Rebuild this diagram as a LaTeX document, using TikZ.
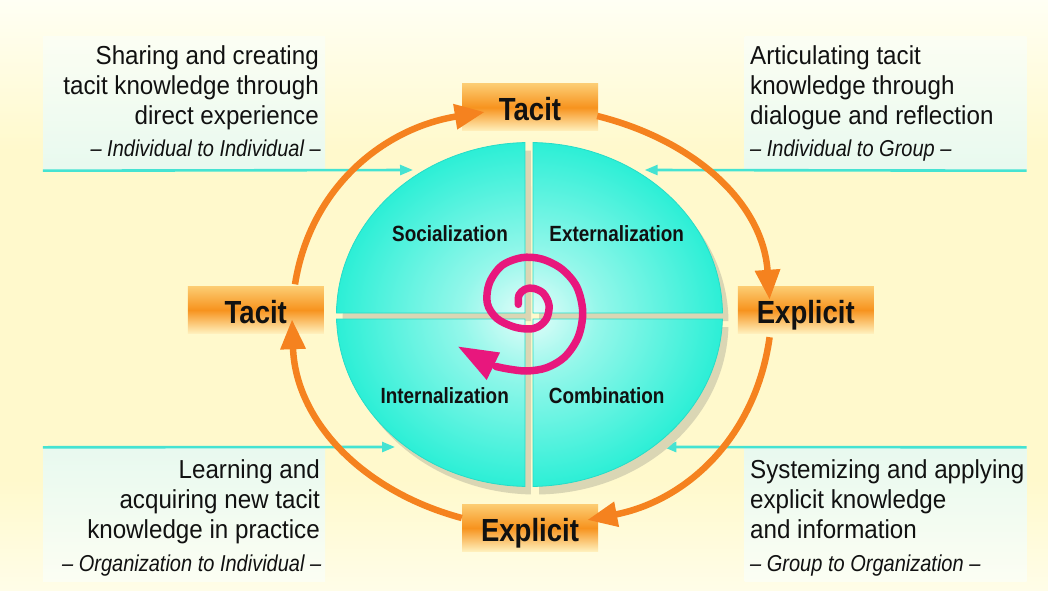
\documentclass[tikz,border=0pt]{standalone}
\usepackage{fontspec}
\setmainfont[FakeStretch=0.93]{Liberation Sans}
\newfontfamily\labfont[FakeStretch=0.86]{Liberation Sans}
\newfontfamily\subfont[FakeStretch=0.87]{Liberation Sans}
\usetikzlibrary{arrows.meta,calc}

\definecolor{bgyellow}{HTML}{FFF9CC}
\definecolor{bgwhite}{HTML}{FFFFF4}
\definecolor{bglow}{HTML}{FFFDE8}
\definecolor{panelhi}{HTML}{FCFEF3}
\definecolor{panellow}{HTML}{E8F9EF}
\definecolor{cyanline}{HTML}{45E3D2}
\definecolor{quadout}{HTML}{2CEFD6}
\definecolor{quadmid}{HTML}{93F7EA}
\definecolor{quadin}{HTML}{E6FDFA}
\definecolor{quadedgec}{HTML}{26DCC8}
\definecolor{shadowc}{HTML}{DAD6B4}
\definecolor{spiralc}{HTML}{E8177D}
\definecolor{orangec}{HTML}{F5821F}
\definecolor{boxtop}{HTML}{FCCC72}
\definecolor{boxmid}{HTML}{F7931E}
\definecolor{boxbot}{HTML}{FFF1BE}
\definecolor{textc}{HTML}{111111}

\pgfdeclareradialshading{quadshade}{\pgfpoint{0bp}{0bp}}{color(0bp)=(quadin); color(9bp)=(quadmid); color(25bp)=(quadout); color(50bp)=(quadout)}

\newcommand\qUL{(525,277) -- ([shift={(529.5,275.5)}]91.34:193 and 172) arc[start angle=91.34, end angle=179.5, x radius=193, y radius=172] -- cycle}
\newcommand\qUR{(533,277) -- ([shift={(529.5,275.5)}]0.5:193 and 172) arc[start angle=0.5, end angle=88.96, x radius=193, y radius=172] -- cycle}
\newcommand\qLL{(525,271) -- ([shift={(529.5,275.5)}]181.5:193 and 172) arc[start angle=181.5, end angle=268.66, x radius=193, y radius=172] -- cycle}
\newcommand\qLR{(533,271) -- ([shift={(529.5,275.5)}]271.04:193 and 172) arc[start angle=271.04, end angle=358.5, x radius=193, y radius=172] -- cycle}
\newcommand\fullell{(529.5,275.5) ellipse [x radius=193, y radius=172]}

\begin{document}
\begin{tikzpicture}[x=1pt,y=1pt,
  obox/.style={shade, top color=boxtop, bottom color=boxbot, middle color=boxmid,
    minimum width=136pt, minimum height=47pt, inner sep=0pt, text height=27pt, text depth=0pt,
    text=textc, font=\labfont\bfseries\fontsize{32}{32}\selectfont},
  panel/.style={minimum width=282pt, minimum height=134pt, inner sep=0pt},
  toppanel/.style={panel, shade, top color=panelhi, bottom color=panellow},
  botpanel/.style={panel, shade, top color=panellow, bottom color=panelhi},
  bodytext/.style={inner sep=0pt, text=textc, font=\fontsize{26}{30}\selectfont},
  subtext/.style={inner sep=0pt, text=textc, font=\subfont\itshape\fontsize{23}{26}\selectfont},
  quadlabel/.style={inner sep=0pt, anchor=base, text=textc, font=\labfont\bfseries\fontsize{22}{24}\selectfont},
  cyanarrow/.style={draw=cyanline, line width=2.6pt, -{Triangle[length=13pt,width=10pt]}},
  orangearrow/.style={draw=orangec, line width=6.5pt, -{Triangle[length=30pt,width=24pt]}},
  spiralline/.style={draw=spiralc, line width=7.5pt, line cap=round, line join=round},
  quadedge/.style={draw=quadedgec, line width=0.8pt},
  quadshadow/.style={fill=shadowc, shift={(6,-8)}}
]
\useasboundingbox (0,0) rectangle (1048,590);
% background
\fill[bgyellow] (0,0) rectangle (1048,590);
\shade[top color=bgwhite, bottom color=bgyellow] (0,440) rectangle (1048,590);
\shade[top color=bgyellow, bottom color=bglow] (0,0) rectangle (1048,110);

% text panels
\node[toppanel] (tlPanel) at (184,486.5) {};
\node[toppanel] (trPanel) at (885.5,486.5) {};
\node[botpanel] (blPanel) at (184,75.5) {};
\node[botpanel] (brPanel) at (885.5,75.5) {};

% connector ends at the ellipse
\coordinate (socIn) at (413,420);
\coordinate (extIn) at (644.7,420);
\coordinate (intIn) at (395,143);
\coordinate (comIn) at (663.3,143);
\draw[cyanarrow] (tlPanel.south west) -- (socIn);
\draw[cyanarrow] (trPanel.south east) -- (extIn);
\draw[cyanarrow] (blPanel.north west) -- (intIn);
\draw[cyanarrow] (brPanel.north east) -- (comIn);

% panel texts
\node[bodytext, anchor=base east] (tl1) at (319,525.5) {Sharing and creating};
\node[bodytext, anchor=base east] (tl2) at (319,495.5) {tacit knowledge through};
\node[bodytext, anchor=base east] (tl3) at (319,465.5) {direct experience};
\node[subtext, anchor=base east] (tl4) at (321,433) {– Individual to Individual –};

\node[bodytext, anchor=base west] (tr1) at (750,525.5) {Articulating tacit};
\node[bodytext, anchor=base west] (tr2) at (750,495.5) {knowledge through};
\node[bodytext, anchor=base west] (tr3) at (750,465.5) {dialogue and reflection};
\node[subtext, anchor=base west] (tr4) at (750,433) {– Individual to Group –};

\node[bodytext, anchor=base east] (bl1) at (320,112) {Learning and};
\node[bodytext, anchor=base east] (bl2) at (320,82) {acquiring new tacit};
\node[bodytext, anchor=base east] (bl3) at (320,52) {knowledge in practice};
\node[subtext, anchor=base east] (bl4) at (321.5,19) {– Organization to Individual –};

\node[bodytext, anchor=base west] (br1) at (750,112) {Systemizing and applying};
\node[bodytext, anchor=base west] (br2) at (750,82) {explicit knowledge};
\node[bodytext, anchor=base west] (br3) at (750,52) {and information};
\node[subtext, anchor=base west] (br4) at (750,19) {– Group to Organization –};

% quadrant shadows
\fill[quadshadow] \qUL;
\fill[quadshadow] \qUR;
\fill[quadshadow] \qLL;
\fill[quadshadow] \qLR;
% quadrants
\begin{scope}\clip \qUL; \shade[shading=quadshade] \fullell; \end{scope}
\begin{scope}\clip \qUR; \shade[shading=quadshade] \fullell; \end{scope}
\begin{scope}\clip \qLL; \shade[shading=quadshade] \fullell; \end{scope}
\begin{scope}\clip \qLR; \shade[shading=quadshade] \fullell; \end{scope}
\draw[quadedge] \qUL;
\draw[quadedge] \qUR;
\draw[quadedge] \qLL;
\draw[quadedge] \qLR;

% quadrant labels
\node[quadlabel] (soc) at (450,349) {Socialization};
\node[quadlabel] (ext) at (616.7,349) {Externalization};
\node[quadlabel] (int) at (444.7,186.7) {Internalization};
\node[quadlabel] (com) at (606.7,186.7) {Combination};

% spiral
\draw[spiralline] plot[smooth, tension=0.55] coordinates {
 (518.3,285.7) (519,295) (525,300.7) (533.3,301.7) (543.3,296.7) (549,285)
 (546.7,271.7) (538.3,263.3) (528.3,261) (513.3,263.3) (496.7,271.7) (487.3,286.7)
 (489.3,306.7) (501.7,324.3) (521.7,332.3) (541.7,331) (561.7,321) (576.7,303.3)
 (582.7,278.3) (578.3,253.3) (565,233.3) (546.7,222.3) (526.7,219) (508.3,221) (496,223.5)};
\fill[spiralc] (458.3,243.3) -- (500,237.5) -- (486.7,210) -- cycle;

% orange boxes
\node[obox] (tacitT) at (530,482.5) {Tacit};
\node[obox] (explR) at (805.8,280) {Explicit};
\node[obox] (tacitL) at (255.8,280) {Tacit};
\node[obox] (explB) at (530,62) {Explicit};

% orange cycle arrows
\draw[orangearrow] ($(tacitL.north east)+(-29,2)$) to[out=81,in=189] ($(tacitT.west)+(23,-4.5)$);
\draw[orangearrow] ($(tacitT.east)+(-1,-8.5)$) to[out=-14,in=94] ($(explR.north west)+(32,-13.5)$);
\draw[orangearrow] ($(explR.south west)+(32,-3.5)$) to[out=262,in=11] ($(explB.east)+(-11,8)$);
\draw[orangearrow] ($(explB.west)+(0,10)$) to[out=165,in=272] ($(tacitL.south east)+(-32,14.5)$);
\end{tikzpicture}
\end{document}
